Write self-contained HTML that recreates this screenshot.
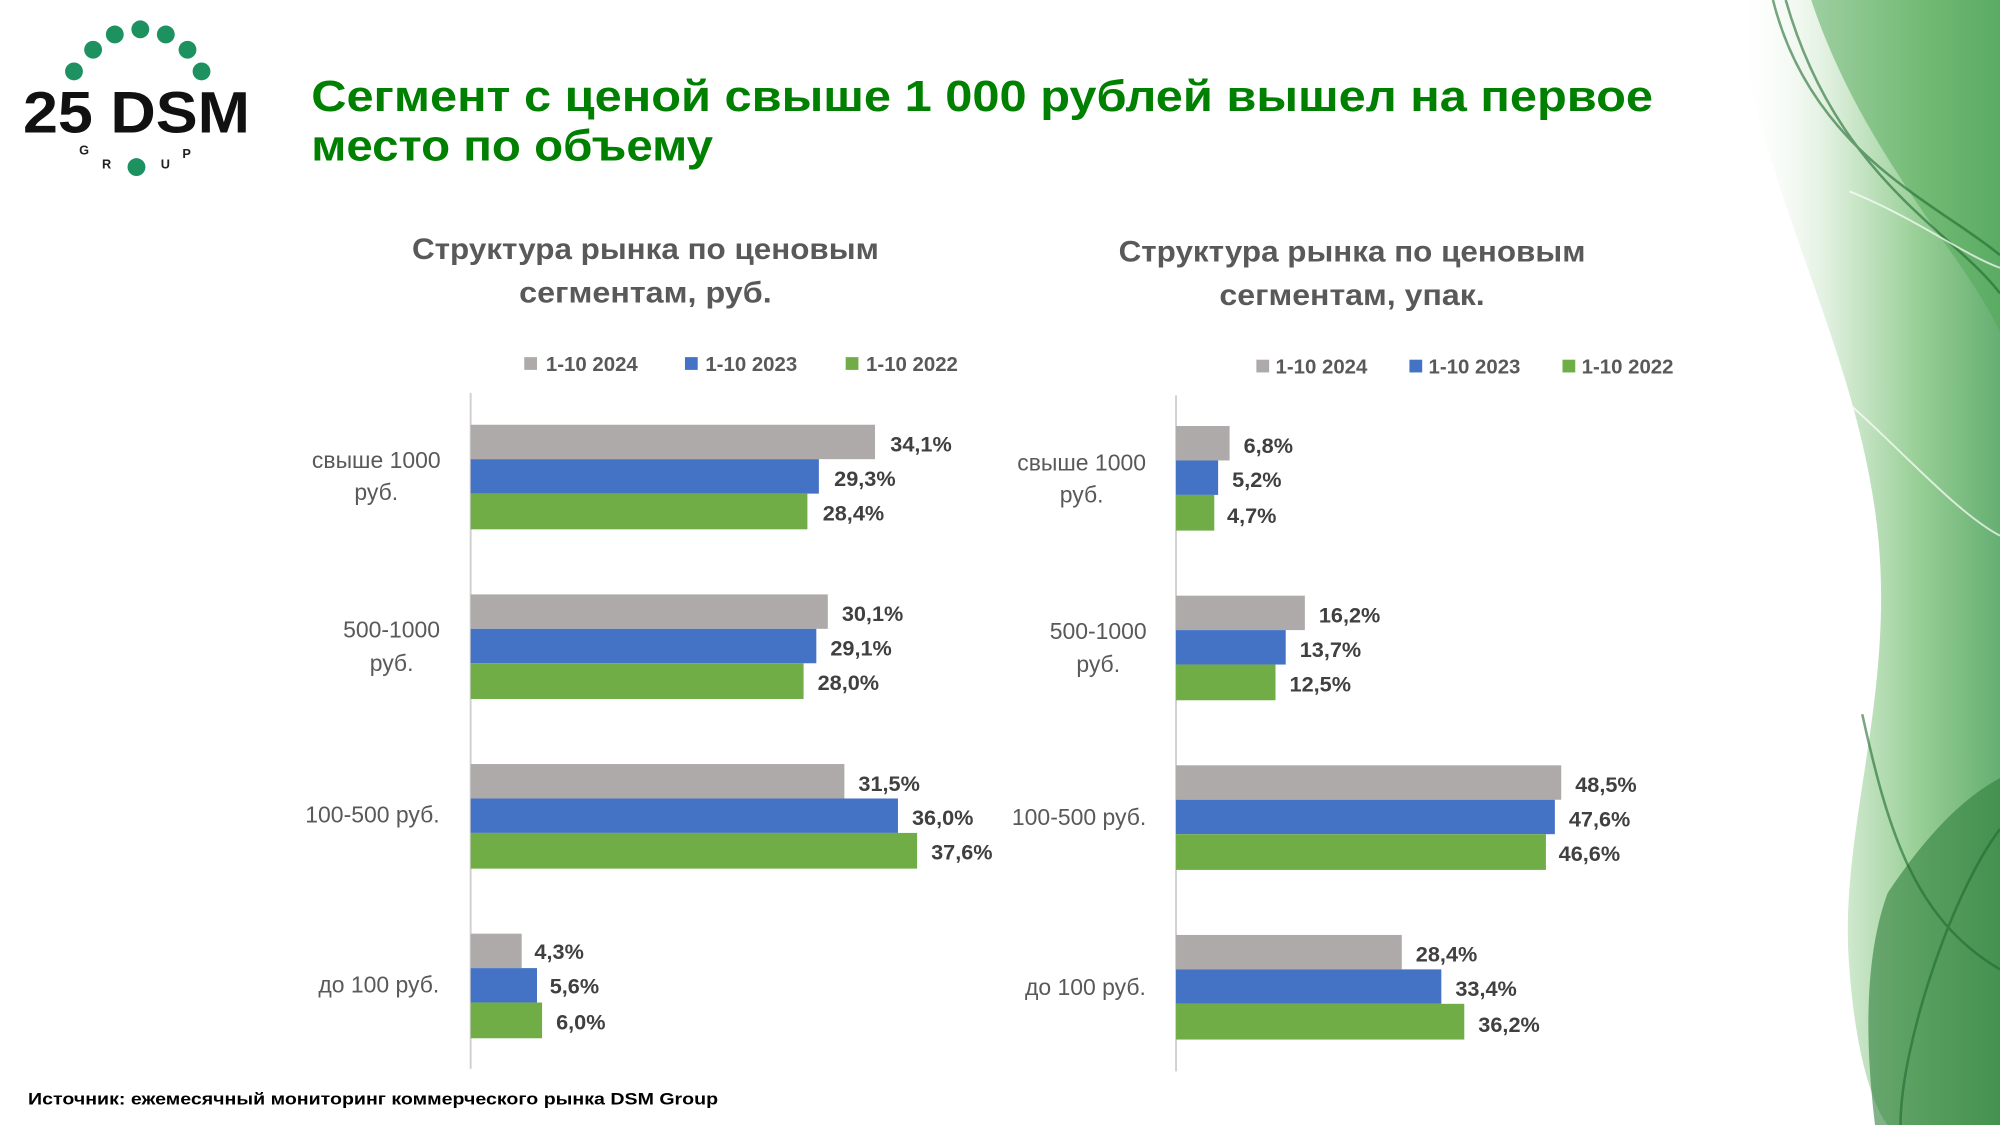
<!DOCTYPE html>
<html><head><meta charset="utf-8"><style>
html,body{margin:0;padding:0;background:#fff;}
svg{display:block;}
text{font-family:"Liberation Sans",sans-serif;}
</style></head><body>
<svg width="2000" height="1125" viewBox="0 0 1568 882" preserveAspectRatio="none" xmlns="http://www.w3.org/2000/svg">
<defs>
<linearGradient id="dg" x1="0" y1="0" x2="1" y2="0">
<stop offset="0" stop-color="#fff" stop-opacity="0"/>
<stop offset="0.35" stop-color="#d8ecd6"/>
<stop offset="0.7" stop-color="#7cc27a"/>
<stop offset="1" stop-color="#3f9a4e"/>
</linearGradient>
</defs>
<rect width="1568" height="882" fill="#fff"/>
<!-- right decoration -->
<path d="M1360,0 C1380,150 1450,260 1470,400 C1490,540 1440,650 1450,760 C1455,830 1470,870 1480,882 L1568,882 L1568,0 Z" fill="url(#dg)" opacity="0.8"/>
<path d="M1420,0 C1460,120 1540,200 1568,260 L1568,0Z" fill="#4fa855" opacity="0.5"/>
<path d="M1480,700 C1520,640 1550,620 1568,610 L1568,882 L1470,882 C1460,800 1465,740 1480,700Z" fill="#2f7f3a" opacity="0.6"/>
<g fill="none" stroke="#1f6b2e" stroke-width="2" opacity="0.6">
<path d="M1390,0 C1420,120 1520,160 1568,200"/>
<path d="M1400,0 C1440,140 1530,180 1568,230"/>
<path d="M1460,560 C1480,650 1500,720 1568,760"/>
<path d="M1490,882 C1490,820 1530,700 1568,650"/>
</g>
<g fill="none" stroke="#ffffff" stroke-width="1.5" opacity="0.7">
<path d="M1430,300 C1480,340 1530,400 1568,420"/>
<path d="M1450,150 C1500,170 1540,200 1568,210"/>
</g>
<!-- logo -->
<g fill="#1e9160">
<circle cx="58" cy="56" r="7"/><circle cx="73" cy="39" r="7"/><circle cx="90" cy="27" r="7"/><circle cx="110" cy="23" r="7"/>
<circle cx="130" cy="27" r="7"/><circle cx="147" cy="39" r="7"/><circle cx="158" cy="56" r="7"/>
<circle cx="107" cy="131" r="7"/>
</g>
<text x="18" y="104" font-size="46" font-weight="bold" fill="#111" textLength="178" lengthAdjust="spacingAndGlyphs">25 DSM</text>
<text x="62" y="121" font-size="10" font-weight="bold" fill="#222">G</text>
<text x="80" y="132" font-size="10" font-weight="bold" fill="#222">R</text>
<text x="126" y="132" font-size="10" font-weight="bold" fill="#222">U</text>
<text x="143" y="124" font-size="10" font-weight="bold" fill="#222">P</text>
<!-- title -->
<text x="244" y="87" font-size="34" font-weight="bold" fill="#008000" textLength="1052" lengthAdjust="spacingAndGlyphs">Сегмент с ценой свыше 1 000 рублей вышел на первое</text>
<text x="244" y="126" font-size="34" font-weight="bold" fill="#008000" textLength="315" lengthAdjust="spacingAndGlyphs">место по объему</text>

<g fill="#595959" font-weight="bold" font-size="23" text-anchor="middle">
<text x="506" y="203" textLength="366" lengthAdjust="spacingAndGlyphs">Структура рынка по ценовым</text>
<text x="506" y="237" textLength="198" lengthAdjust="spacingAndGlyphs">сегментам, руб.</text>
<text x="1060" y="205" textLength="366" lengthAdjust="spacingAndGlyphs">Структура рынка по ценовым</text>
<text x="1060" y="239" textLength="208" lengthAdjust="spacingAndGlyphs">сегментам, упак.</text>
</g>
<g font-size="16" font-weight="bold" fill="#595959">
<rect x="411" y="280" width="10" height="10" fill="#AEAAAA"/><text x="428" y="291">1-10 2024</text>
<rect x="537" y="280" width="10" height="10" fill="#4472C4"/><text x="553" y="291">1-10 2023</text>
<rect x="663" y="280" width="10" height="10" fill="#70AD47"/><text x="679" y="291">1-10 2022</text>
<rect x="985" y="282" width="10" height="10" fill="#AEAAAA"/><text x="1000" y="293">1-10 2024</text>
<rect x="1105" y="282" width="10" height="10" fill="#4472C4"/><text x="1120" y="293">1-10 2023</text>
<rect x="1225" y="282" width="10" height="10" fill="#70AD47"/><text x="1240" y="293">1-10 2022</text>
</g>
<line x1="369" y1="308" x2="369" y2="838" stroke="#d0d0d0" stroke-width="1.5"/>
<line x1="922" y1="310" x2="922" y2="840" stroke="#d0d0d0" stroke-width="1.5"/>

<g>
<rect x="369" y="333" width="317" height="27" fill="#AEAAAA"/>
<rect x="369" y="360" width="273" height="27" fill="#4472C4"/>
<rect x="369" y="387" width="264" height="28" fill="#70AD47"/>
<rect x="369" y="466" width="280" height="27" fill="#AEAAAA"/>
<rect x="369" y="493" width="271" height="27" fill="#4472C4"/>
<rect x="369" y="520" width="261" height="28" fill="#70AD47"/>
<rect x="369" y="599" width="293" height="27" fill="#AEAAAA"/>
<rect x="369" y="626" width="335" height="27" fill="#4472C4"/>
<rect x="369" y="653" width="350" height="28" fill="#70AD47"/>
<rect x="369" y="732" width="40" height="27" fill="#AEAAAA"/>
<rect x="369" y="759" width="52" height="27" fill="#4472C4"/>
<rect x="369" y="786" width="56" height="28" fill="#70AD47"/>
</g>
<g font-size="17" font-weight="bold" fill="#404040">
<text x="698" y="354">34,1%</text><text x="654" y="381">29,3%</text><text x="645" y="408">28,4%</text>
<text x="660" y="487">30,1%</text><text x="651" y="514">29,1%</text><text x="641" y="541">28,0%</text>
<text x="673" y="620">31,5%</text><text x="715" y="647">36,0%</text><text x="730" y="674">37,6%</text>
<text x="419" y="752">4,3%</text><text x="431" y="779">5,6%</text><text x="436" y="807">6,0%</text>
</g>
<g font-size="18" fill="#595959" text-anchor="middle">
<text x="295" y="367">свыше 1000</text><text x="295" y="392">руб.</text>
<text x="307" y="500">500-1000</text><text x="307" y="526">руб.</text>
<text x="292" y="645">100-500 руб.</text>
<text x="297" y="778">до 100 руб.</text>
<text x="848" y="369">свыше 1000</text><text x="848" y="394">руб.</text>
<text x="861" y="501">500-1000</text><text x="861" y="527">руб.</text>
<text x="846" y="647">100-500 руб.</text>
<text x="851" y="780">до 100 руб.</text>
</g>
<g>
<rect x="922" y="334" width="42" height="27" fill="#AEAAAA"/>
<rect x="922" y="361" width="33" height="27" fill="#4472C4"/>
<rect x="922" y="388" width="30" height="28" fill="#70AD47"/>
<rect x="922" y="467" width="101" height="27" fill="#AEAAAA"/>
<rect x="922" y="494" width="86" height="27" fill="#4472C4"/>
<rect x="922" y="521" width="78" height="28" fill="#70AD47"/>
<rect x="922" y="600" width="302" height="27" fill="#AEAAAA"/>
<rect x="922" y="627" width="297" height="27" fill="#4472C4"/>
<rect x="922" y="654" width="290" height="28" fill="#70AD47"/>
<rect x="922" y="733" width="177" height="27" fill="#AEAAAA"/>
<rect x="922" y="760" width="208" height="27" fill="#4472C4"/>
<rect x="922" y="787" width="226" height="28" fill="#70AD47"/>
</g>
<g font-size="17" font-weight="bold" fill="#404040">
<text x="975" y="355">6,8%</text><text x="966" y="382">5,2%</text><text x="962" y="410">4,7%</text>
<text x="1034" y="488">16,2%</text><text x="1019" y="515">13,7%</text><text x="1011" y="542">12,5%</text>
<text x="1235" y="621">48,5%</text><text x="1230" y="648">47,6%</text><text x="1222" y="675">46,6%</text>
<text x="1110" y="754">28,4%</text><text x="1141" y="781">33,4%</text><text x="1159" y="809">36,2%</text>
</g>
<text x="22" y="866" font-size="13" font-weight="bold" fill="#000" textLength="541" lengthAdjust="spacingAndGlyphs">Источник: ежемесячный мониторинг коммерческого рынка DSM Group</text>
</svg>
</body></html>
